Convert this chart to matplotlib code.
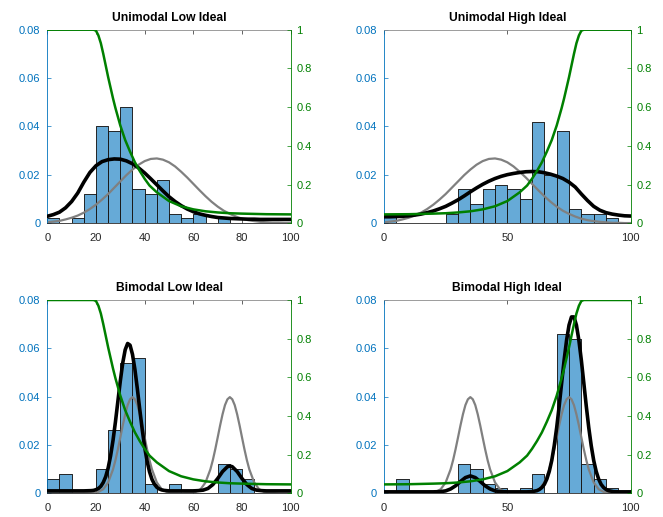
import numpy as np
import matplotlib
matplotlib.use('Agg')
import matplotlib.pyplot as plt

plt.rcParams['font.family'] = ['Liberation Sans', 'DejaVu Sans']

# histogram bins (width 5) and densities
bin_left = np.arange(0, 100, 5)
hist_uni_low = [0.002, 0, 0.002, 0.012, 0.040, 0.038, 0.048, 0.014, 0.012, 0.018,
                0.004, 0.002, 0.004, 0, 0.002, 0, 0, 0, 0, 0]
hist_uni_high = [0.004, 0, 0, 0, 0, 0.004, 0.014, 0.008, 0.014, 0.016,
                 0.014, 0.010, 0.042, 0.020, 0.038, 0.006, 0.004, 0.004, 0.002, 0]
hist_bim_low = [0.006, 0.008, 0, 0, 0.010, 0.026, 0.054, 0.056, 0.004, 0,
                0.004, 0, 0, 0, 0.012, 0.010, 0.006, 0, 0, 0]
hist_bim_high = [0, 0.006, 0, 0, 0, 0, 0.012, 0.010, 0.004, 0.002,
                 0, 0.002, 0.008, 0, 0.066, 0.064, 0.012, 0.006, 0.002, 0]

# unimodal curves, sampled every 2.5
uni_x = np.arange(0, 100.1, 2.5)
uni_ideal = [0.0004, 0.0007, 0.0010, 0.0016, 0.0023, 0.0032, 0.0044, 0.0059, 0.0077, 0.0098,
             0.0121, 0.0147, 0.0173, 0.0199, 0.0222, 0.0242, 0.0257, 0.0266, 0.0268, 0.0263,
             0.0252, 0.0235, 0.0213, 0.0189, 0.0163, 0.0137, 0.0112, 0.0089, 0.0069, 0.0052,
             0.0039, 0.0028, 0.0019, 0.0013, 0.0009, 0.0006, 0.0004, 0.0002, 0.0002, 0.0001, 0.0001]
uni_low_fit = [0.0029, 0.0036, 0.0046, 0.0064, 0.0090, 0.0125, 0.0170, 0.0210, 0.0238, 0.0255,
               0.0263, 0.0266, 0.0265, 0.0258, 0.0246, 0.0229, 0.0208, 0.0184, 0.0159, 0.0134,
               0.0110, 0.0090, 0.0073, 0.0059, 0.0048, 0.0039, 0.0033, 0.0028, 0.0024, 0.0022,
               0.0020, 0.0019, 0.0018, 0.0017, 0.0017, 0.0016, 0.0016, 0.0016, 0.0016, 0.0016, 0.0016]
uni_high_fit = [0.0027, 0.0027, 0.0028, 0.0029, 0.0031, 0.0034, 0.0038, 0.0044, 0.0051, 0.0060,
                0.0070, 0.0083, 0.0097, 0.0113, 0.0130, 0.0146, 0.0161, 0.0174, 0.0185, 0.0194,
                0.0201, 0.0206, 0.0210, 0.0213, 0.0214, 0.0213, 0.0209, 0.0203, 0.0195, 0.0185,
                0.0170, 0.0150, 0.0121, 0.0094, 0.0070, 0.0054, 0.0044, 0.0038, 0.0034, 0.0031, 0.0030]

# bimodal curves
bim_ideal_x = [0, 10, 15, 19, 21, 23, 25, 27, 28, 29, 30, 31, 32, 33, 34, 35, 36, 37, 38, 39,
               40, 41, 42, 43, 45, 47, 49, 51, 55, 59, 61, 63, 65, 67, 68, 69, 70, 71, 72, 73,
               74, 75, 76, 77, 78, 79, 80, 81, 82, 83, 85, 87, 89, 91, 95, 100]
bim_ideal = [0, 0, 0, 0.0002, 0.0006, 0.0017, 0.0045, 0.0099, 0.0137, 0.0182, 0.0231, 0.0281,
             0.0327, 0.0365, 0.0389, 0.0398, 0.0389, 0.0365, 0.0327, 0.0281, 0.0231, 0.0182,
             0.0137, 0.0099, 0.0045, 0.0017, 0.0006, 0.0002, 0, 0.0002, 0.0006, 0.0017, 0.0045,
             0.0099, 0.0137, 0.0182, 0.0231, 0.0281, 0.0327, 0.0365, 0.0389, 0.0398, 0.0389,
             0.0365, 0.0327, 0.0281, 0.0231, 0.0182, 0.0137, 0.0099, 0.0045, 0.0017, 0.0006,
             0.0002, 0, 0]

bim_low_x = [0, 5, 10, 15, 18, 19, 20, 21, 22, 23, 24, 25, 26, 27, 28, 29, 30, 31, 32, 33,
             34, 35, 36, 37, 38, 39, 40, 41, 42, 43, 44, 45, 46, 47, 48, 50, 55, 60, 62, 64,
             66, 68, 70, 72, 74, 75, 76, 78, 80, 82, 84, 86, 88, 90, 95, 100]
bim_low_fit = [0.0010, 0.0010, 0.0010, 0.0010, 0.0011, 0.0012, 0.0015, 0.0020, 0.0029, 0.0045,
               0.0069, 0.0105, 0.0155, 0.0219, 0.0296, 0.0381, 0.0465, 0.0540, 0.0594, 0.0620,
               0.0613, 0.0575, 0.0512, 0.0432, 0.0346, 0.0264, 0.0191, 0.0133, 0.0089, 0.0058,
               0.0038, 0.0025, 0.0018, 0.0014, 0.0012, 0.0010, 0.0010, 0.0010, 0.0011, 0.0013,
               0.0020, 0.0036, 0.0061, 0.0090, 0.0110, 0.0113, 0.0110, 0.0090, 0.0061, 0.0036,
               0.0020, 0.0013, 0.0011, 0.0010, 0.0010, 0.0010]

bim_high_x = [0, 10, 20, 23, 25, 27, 29, 31, 33, 35, 37, 39, 41, 43, 45, 47, 50, 55, 58, 60,
              62, 63, 64, 65, 66, 67, 68, 69, 70, 71, 72, 73, 74, 75, 76, 77, 78, 79, 80, 81,
              82, 83, 84, 85, 86, 87, 88, 89, 90, 91, 93, 95, 100]
bim_high_fit = [0.0006, 0.0006, 0.0006, 0.0007, 0.0010, 0.0018, 0.0031, 0.0049, 0.0065, 0.0072,
                0.0065, 0.0049, 0.0031, 0.0018, 0.0010, 0.0007, 0.0006, 0.0006, 0.0006, 0.0007,
                0.0011, 0.0016, 0.0024, 0.0037, 0.0059, 0.0091, 0.0136, 0.0197, 0.0272, 0.0360,
                0.0456, 0.0550, 0.0633, 0.0696, 0.0730, 0.0730, 0.0696, 0.0633, 0.0550, 0.0456,
                0.0360, 0.0272, 0.0197, 0.0136, 0.0091, 0.0059, 0.0037, 0.0024, 0.0016, 0.0011,
                0.0007, 0.0006, 0.0006]

# green response curves (right axis)
resp_low_x = [0, 5, 10, 15, 19, 20, 21, 22, 23, 24, 25, 26, 27, 28, 29, 30, 32, 34, 36, 38,
              40, 42, 45, 50, 55, 60, 65, 70, 75, 80, 90, 100]
resp_low = [1, 1, 1, 1, 1, 0.995, 0.97, 0.93, 0.875, 0.815, 0.755, 0.70, 0.645, 0.595, 0.55,
            0.505, 0.43, 0.37, 0.315, 0.27, 0.23, 0.195, 0.16, 0.115, 0.088, 0.072, 0.062,
            0.056, 0.052, 0.05, 0.047, 0.046]
resp_high_x = [0, 10, 20, 25, 30, 35, 40, 45, 50, 55, 58, 60, 62, 64, 66, 68, 70, 71, 72, 73,
               74, 75, 76, 77, 78, 79, 80, 81, 85, 90, 95, 100]
resp_high = [0.046, 0.047, 0.05, 0.052, 0.056, 0.062, 0.072, 0.088, 0.115, 0.16, 0.195, 0.23,
             0.27, 0.315, 0.37, 0.43, 0.505, 0.55, 0.595, 0.645, 0.70, 0.755, 0.815, 0.875,
             0.93, 0.97, 0.995, 1, 1, 1, 1, 1]

titles = ['Unimodal Low Ideal', 'Unimodal High Ideal', 'Bimodal Low Ideal', 'Bimodal High Ideal']
hists = [hist_uni_low, hist_uni_high, hist_bim_low, hist_bim_high]
ideal = [(uni_x, uni_ideal), (uni_x, uni_ideal), (bim_ideal_x, bim_ideal), (bim_ideal_x, bim_ideal)]
fits = [(uni_x, uni_low_fit), (uni_x, uni_high_fit), (bim_low_x, bim_low_fit), (bim_high_x, bim_high_fit)]
resp = [(resp_low_x, resp_low), (resp_high_x, resp_high), (resp_low_x, resp_low), (resp_high_x, resp_high)]
xticks = [[0, 20, 40, 60, 80, 100], [0, 50, 100], [0, 20, 40, 60, 80, 100], [0, 50, 100]]

W, H = 663, 517
boxes = [(47.3, 29.7, 290.7, 223.3), (384, 29.7, 630.7, 223.3),
         (47.3, 300, 290.7, 493.3), (384, 300, 630.7, 493.3)]

blue = '#0072BD'
green = '#008000'

fig = plt.figure(figsize=(W / 100, H / 100), dpi=100)
for i in range(4):
    l, t, r, b = boxes[i]
    ax = fig.add_axes([l / W, 1 - b / H, (r - l) / W, (b - t) / H])
    ax.bar(bin_left, hists[i], width=5, align='edge', color=blue, alpha=0.6,
           edgecolor='#1a1a1a', linewidth=0.6, zorder=1)
    ax.bar(bin_left, hists[i], width=5, align='edge', facecolor='none',
           edgecolor='#1a1a1a', linewidth=0.6, zorder=1.5)
    ax.plot(ideal[i][0], ideal[i][1], color='#808080', lw=1.6, zorder=2)
    ax.plot(fits[i][0], fits[i][1], color='black', lw=2.6, zorder=3)
    ax.set_xlim(0, 100)
    ax.set_ylim(0, 0.08)
    ax.set_xticks(xticks[i])
    ax.set_yticks([0, 0.02, 0.04, 0.06, 0.08])
    ax.set_yticklabels(['0', '0.02', '0.04', '0.06', '0.08'])
    ax.tick_params(axis='x', direction='in', top=True, length=3, width=0.5,
                   colors='#262626', labelsize=8, pad=7)
    ax.tick_params(axis='y', direction='in', length=3, width=0.5, colors=blue,
                   labelsize=8, pad=5)
    ax.spines['left'].set_color(blue)
    ax.spines['right'].set_visible(False)
    ax.spines['top'].set_color('#8c8c8c')
    ax.spines['bottom'].set_color('#262626')
    for s in ax.spines.values():
        s.set_linewidth(0.6)
    ax.set_title(titles[i], fontsize=8.7, fontweight='bold', pad=6.5)

    ax2 = ax.twinx()
    ax2.plot(resp[i][0], resp[i][1], color=green, lw=1.8, zorder=4)
    ax2.set_ylim(0, 1)
    ax2.set_yticks([0, 0.2, 0.4, 0.6, 0.8, 1])
    ax2.set_yticklabels(['0', '0.2', '0.4', '0.6', '0.8', '1'])
    ax2.tick_params(axis='y', direction='in', length=3, width=0.5, colors=green,
                    labelsize=8, pad=4)
    ax2.spines['right'].set_color(green)
    ax2.spines['right'].set_linewidth(0.6)
    ax2.spines['left'].set_visible(False)
    ax2.spines['top'].set_visible(False)
    ax2.spines['bottom'].set_visible(False)

fig.savefig('out.png', dpi=100)
